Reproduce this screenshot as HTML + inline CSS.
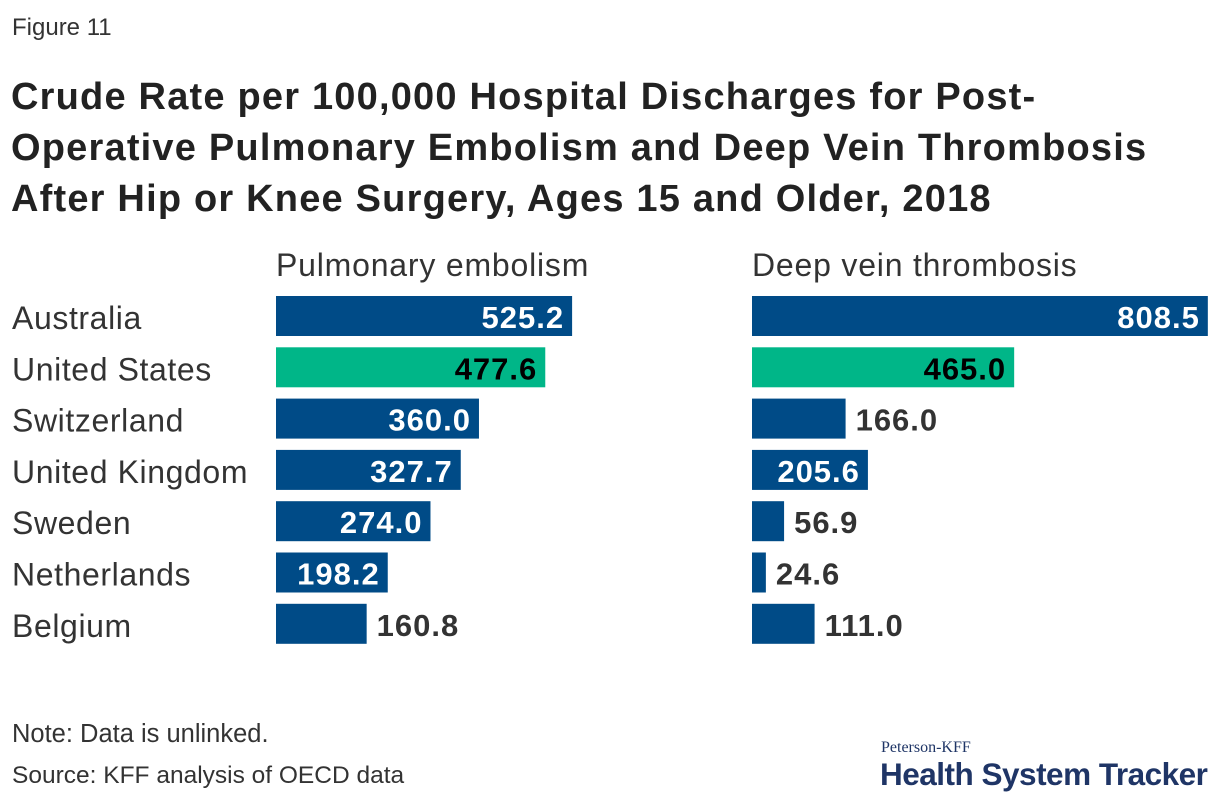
<!DOCTYPE html>
<html><head><meta charset="utf-8"><style>
body{margin:0;width:1220px;height:806px;background:#fff;font-family:"Liberation Sans",sans-serif;color:#222;overflow:hidden;position:relative}
.t{position:absolute;white-space:nowrap}
</style></head><body>
<div class="t" style="left:12px;top:14px;font-size:24px;color:#333">Figure 11</div>
<div class="t" style="left:11px;top:72px;font-size:38px;font-weight:bold;line-height:51px;color:#222;letter-spacing:1.2px">Crude Rate per 100,000 Hospital Discharges for Post-<br>Operative Pulmonary Embolism and Deep Vein Thrombosis<br>After Hip or Knee Surgery, Ages 15 and Older, 2018</div>
<svg id="chart" width="1220" height="806" style="position:absolute;left:0;top:0"></svg>
<div class="t" style="left:12px;top:720px;font-size:25.5px;color:#333">Note: Data is unlinked.</div>
<div class="t" style="left:12px;top:762px;font-size:24.5px;color:#333">Source: KFF analysis of OECD data</div>
<div class="t" style="left:881px;top:739px;font-size:16px;font-family:'Liberation Serif',serif;color:#1f3566">Peterson-KFF</div>
<div class="t" style="left:880px;top:756px;font-size:31.5px;font-weight:bold;color:#1f3566;letter-spacing:-0.5px">Health System Tracker</div>
<script>
const countries=["Australia","United States","Switzerland","United Kingdom","Sweden","Netherlands","Belgium"];
const peValues=[525.2,477.6,360.0,327.7,274.0,198.2,160.8];
const dvtValues=[808.5,465.0,166.0,205.6,56.9,24.6,111.0];
const panelTitles=["Pulmonary embolism","Deep vein thrombosis"];
const svg=document.getElementById('chart');
const NS='http://www.w3.org/2000/svg';
const scale=v=>v*0.5638;
const rowY=i=>296+i*51.3;
const barH=40;
function mk(tag,attrs,txt){const e=document.createElementNS(NS,tag);for(const k in attrs)e.setAttribute(k,attrs[k]);if(txt!==undefined)e.textContent=txt;svg.appendChild(e);return e;}
countries.forEach((c,i)=>{
  const t=mk('text',{x:12,y:rowY(i)+33,'font-size':32,'letter-spacing':0.6,fill:'#333','font-family':'Liberation Sans, sans-serif'},c);
  
  
});
[[peValues,276],[dvtValues,752]].forEach(([vals,x0],p)=>{
  const ht=mk('text',{x:x0,y:276,'font-size':32,'letter-spacing':0.8,fill:'#333','font-family':'Liberation Sans, sans-serif'},panelTitles[p]);
  
  
  vals.forEach((v,i)=>{
    const w=scale(v),y=rowY(i),us=i===1;
    const r=mk('rect',{x:x0,y:y,width:w,height:barH,fill:us?'#00b688':'#004b87'});
    
    
    const label=v.toFixed(1);
    const inside=w>110;
    const t=mk('text',{x:inside?x0+w-8:x0+w+10,y:y+32,'font-size':31,'letter-spacing':1,'font-weight':'bold','text-anchor':inside?'end':'start',fill:inside?(us?'#000':'#fff'):'#333','font-family':'Liberation Sans, sans-serif'},label);
    
    
  });
});
</script>
</body></html>
